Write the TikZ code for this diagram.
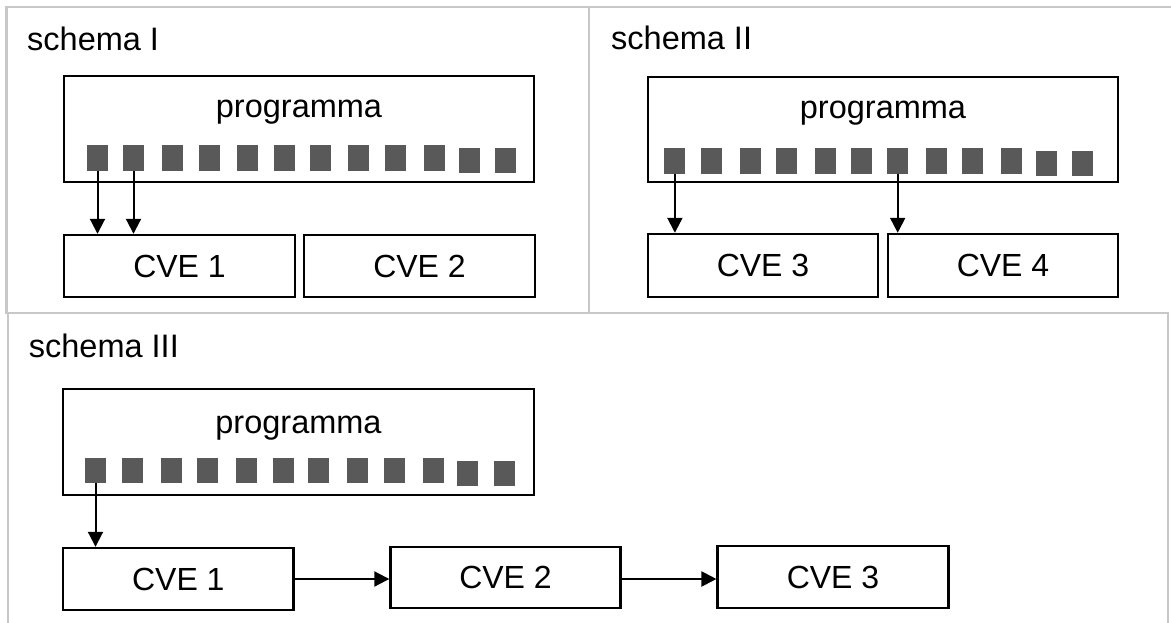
\documentclass[tikz,border=0pt]{standalone}
\usepackage{fontspec}
\setmainfont{Liberation Sans}
\usetikzlibrary{arrows.meta}
\definecolor{panelgray}{RGB}{200,200,200}
\definecolor{sqgray}{RGB}{89,89,89}
\begin{document}
\begin{tikzpicture}[x=1pt,y=-1pt,
  panel/.style={draw=panelgray,line width=2.2pt},
  box/.style={draw=black,line width=2.4pt,rectangle,inner sep=0pt,fill=white},
  sq/.style={fill=sqgray,draw=none,rectangle,inner sep=0pt,minimum width=21pt,minimum height=25.5pt},
  title/.style={anchor=base west,inner sep=0pt,font=\fontsize{32.5}{38}\selectfont},
  lbl/.style={anchor=base,inner sep=0pt,font=\fontsize{32.5}{38}\selectfont},
  cvetxt/.style={font=\fontsize{32}{38}\selectfont},
  arr/.style={line width=2pt,-{Triangle[width=15pt,length=15pt]}}]
\useasboundingbox (0,0) rectangle (1171,623);
% panel frames
\draw[panel] (6.5,7) rectangle (589,313);
\draw[panel] (589,7) -- (1175,7);
\draw[panel] (589,313) -- (1168,313);
\draw[panel] (8,630) -- (8,313) -- (1168,313) -- (1168,630);
% ---------- schema I ----------
\node[title] (t1) at (27,51) {schema I};
\node[box,minimum width=470pt,minimum height=106pt] (p1) at (299,129) {};
\node[lbl] (pl1) at (299,118) {programma};
\foreach \i/\x/\y in {1/87/158.2,2/123/158.2,3/162/158.2,4/198.5/158.2,5/237/158.2,6/273.5/158.2,7/310/158.2,8/348/158.2,9/384.5/158.2,10/423.5/158.2,11/458.5/160.5,12/495/160.5}
  \node[sq] (a\i) at (\x+10.5,\y) {};
\node[box,cvetxt,minimum width=231pt,minimum height=62pt] (c11) at (179.5,266) {CVE 1};
\node[box,cvetxt,minimum width=231pt,minimum height=62pt] (c12) at (419.5,266) {CVE 2};
\draw[arr] (a1.south) -- (a1.south |- c11.north);
\draw[arr] (a2.south) -- (a2.south |- c11.north);
% ---------- schema II ----------
\node[title] (t2) at (611,50) {schema II};
\node[box,minimum width=470pt,minimum height=105pt] (p2) at (883,129.5) {};
\node[lbl] (pl2) at (883,119) {programma};
\foreach \i/\x/\y in {1/664.4/160.8,2/700.6/160.8,3/739.8/160.8,4/776/160.8,5/814.8/160.8,6/851/160.8,7/887.2/160.8,8/926/160.8,9/962.2/160.8,10/1001.4/160.8,11/1036.1/163.5,12/1072.3/163.5}
  \node[sq] (b\i) at (\x+10.5,\y) {};
\node[box,cvetxt,minimum width=230pt,minimum height=63pt] (c23) at (763,265.5) {CVE 3};
\node[box,cvetxt,minimum width=230pt,minimum height=63pt] (c24) at (1003,265.5) {CVE 4};
\draw[arr] (b1.south) -- (b1.south |- c23.north);
\draw[arr] (b7.south) -- (b7.south |- c24.north);
% ---------- schema III ----------
\node[title] (t3) at (28.7,357) {schema III};
\node[box,minimum width=471pt,minimum height=106pt] (p3) at (298.5,442) {};
\node[lbl] (pl3) at (298.5,433) {programma};
\foreach \i/\x/\y in {1/85/470.5,2/121.7/470.5,3/160.7/470.5,4/197.1/470.5,5/236.1/470.5,6/272.5/470.5,7/308.1/470.5,8/347.1/470.5,9/383.5/470.5,10/422.5/470.5,11/457.3/473.5,12/493.7/473.5}
  \node[sq] (d\i) at (\x+10.5,\y) {};
\node[box,cvetxt,minimum width=230.5pt,minimum height=62pt] (c31) at (178.3,579) {CVE 1};
\node[box,cvetxt,minimum width=230pt,minimum height=61pt] (c32) at (505.5,577.5) {CVE 2};
\node[box,cvetxt,minimum width=230.7pt,minimum height=62pt] (c33) at (833,577) {CVE 3};
\draw[arr] (d1.south) -- (d1.south |- c31.north);
\draw[arr] (c31.east) -- (c31.east -| c32.west);
\draw[arr] (c31.east -| c32.east) -- (c31.east -| c33.west);
\end{tikzpicture}
\end{document}
